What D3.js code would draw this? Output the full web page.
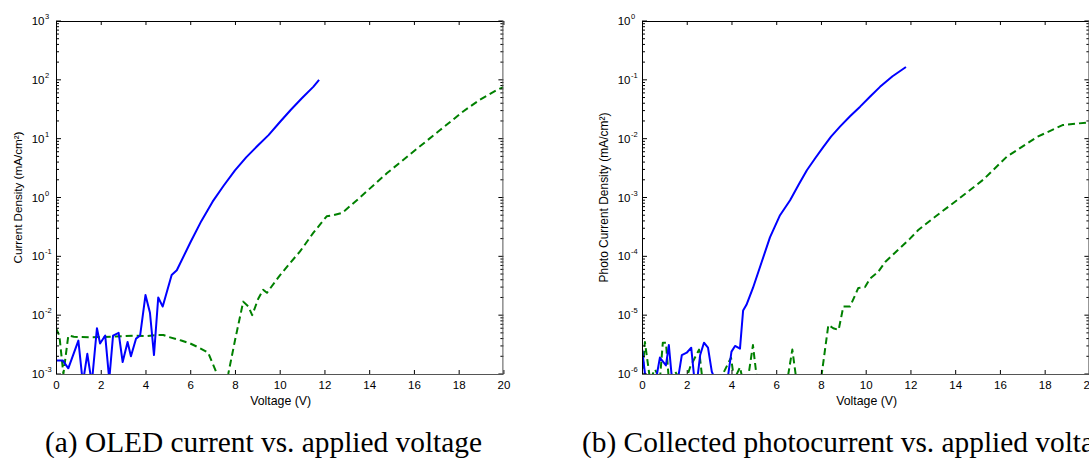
<!DOCTYPE html>
<html>
<head>
<meta charset="utf-8">
<script src="https://cdn.jsdelivr.net/npm/d3@7"></script>
<style>
  html, body { margin: 0; padding: 0; background: #fff; }
  svg { display: block; }
</style>
</head>
<body>
<svg id="chart" width="1089" height="458"></svg>
<script>
// ---------- Data ----------
// Panel (a): OLED current density vs voltage
const oledBlueV = [0, 0.3, 0.55, 1.0, 1.2, 1.4, 1.6, 1.83, 1.97, 2.2, 2.38, 2.55, 2.8, 2.98, 3.2, 3.35, 3.58, 3.76, 4.0, 4.2, 4.38, 4.57, 4.77, 5.17, 5.4, 6.0, 6.5, 7.0, 7.5, 8.0, 8.5, 9.0, 9.5, 10.0, 10.5, 11.0, 11.5, 11.76];
const oledBlueJ = [1.7e-3, 1.7e-3, 1.25e-3, 3.7e-3, 7e-4, 2.2e-3, 7e-4, 6e-3, 3.3e-3, 4.5e-3, 8e-4, 4.5e-3, 5e-3, 1.6e-3, 3.5e-3, 2e-3, 4e-3, 4.5e-3, 2.2e-2, 1.1e-2, 2.1e-3, 2e-2, 1.4e-2, 4.8e-2, 5.8e-2, 0.17, 0.4, 0.85, 1.6, 2.9, 4.8, 7.5, 11.5, 19, 31, 49, 76, 100];

const oledGreenV = [0, 0.15, 0.33, 0.55, 0.8, 1.5, 2.5, 3.5, 4.0, 4.5, 4.8, 5.0, 5.6, 6.0, 6.4, 6.8, 7.2, 7.45, 7.7, 8.0, 8.37, 8.6, 8.77, 9.04, 9.26, 9.43, 10.0, 10.5, 10.9, 11.5, 12.1, 12.4, 12.8, 13.45, 14.8, 15.97, 17.17, 18.2, 18.95, 19.76, 20];
const oledGreenJ = [6e-3, 4.5e-3, 1e-3, 4.5e-3, 4.3e-3, 4.2e-3, 4.3e-3, 4.5e-3, 4.4e-3, 4.6e-3, 4.6e-3, 4.3e-3, 3.7e-3, 3.3e-3, 2.8e-3, 2.3e-3, 1e-3, 5e-4, 1e-3, 3.7e-3, 1.7e-2, 1.4e-2, 1e-2, 1.9e-2, 2.7e-2, 2.4e-2, 4.7e-2, 8e-2, 0.12, 0.25, 0.48, 0.5, 0.55, 0.9, 2.6, 6, 14, 29, 46, 69, 75];

// Panel (b): collected photocurrent density vs voltage
const photoBlueV = [0, 0.15, 0.4, 0.67, 0.8, 1.07, 1.2, 1.33, 1.55, 1.78, 2.0, 2.2, 2.33, 2.45, 2.6, 2.77, 2.95, 3.12, 3.4, 3.8, 4.0, 4.16, 4.38, 4.52, 4.67, 4.96, 5.35, 5.72, 6.17, 6.62, 7.0, 7.37, 7.75, 8.1, 8.45, 8.85, 9.3, 9.75, 10.2, 10.64, 11.2, 11.8];
const photoBlueJ = [2.7e-6, 9e-7, 6e-7, 1e-6, 1.9e-6, 1.4e-6, 3.1e-6, 9e-7, 6e-7, 2.1e-6, 2.3e-6, 2.8e-6, 9e-7, 7e-7, 2.1e-6, 3.4e-6, 2.8e-6, 1.1e-6, 6e-7, 7e-7, 2.4e-6, 3e-6, 2.7e-6, 1.2e-5, 1.5e-5, 2.9e-5, 8e-5, 2.1e-4, 5e-4, 9e-4, 1.65e-3, 2.9e-3, 4.7e-3, 7.2e-3, 1.08e-2, 1.6e-2, 2.4e-2, 3.5e-2, 5.2e-2, 7.6e-2, 0.115, 0.165];

const photoGreenV = [0, 0.13, 0.36, 0.58, 0.8, 0.93, 1.07, 1.2, 1.48, 1.7, 1.97, 2.15, 2.55, 2.7, 3.0, 3.49, 3.98, 4.12, 4.38, 4.5, 4.75, 4.96, 5.14, 5.8, 6.5, 6.72, 6.9, 7.5, 8.0, 8.33, 8.55, 8.79, 9.0, 9.3, 9.67, 9.97, 10.2, 10.55, 10.87, 11.98, 12.35, 13.0, 14.08, 15.25, 16.3, 17.66, 18.8, 20];
const photoGreenJ = [8e-7, 3.5e-6, 8e-7, 1.2e-6, 8e-7, 3.4e-6, 3.4e-6, 8e-7, 1.1e-6, 8e-7, 8e-7, 1.3e-6, 2.6e-6, 8e-7, 6e-7, 8e-7, 1.9e-6, 8e-7, 1.3e-6, 8e-7, 9e-7, 3.1e-6, 8e-7, 6e-7, 8e-7, 2.6e-6, 8e-7, 6e-7, 8e-7, 6.8e-6, 6e-6, 5.6e-6, 1.4e-5, 1.4e-5, 2.9e-5, 3e-5, 4.2e-5, 5.4e-5, 8e-5, 2e-4, 2.8e-4, 4.4e-4, 9e-4, 2e-3, 4.9e-3, 1.07e-2, 1.7e-2, 1.9e-2];

// Axis tick definitions
const xTicks = [0, 2, 4, 6, 8, 10, 12, 14, 16, 18, 20];
const yExpA = [-3, -2, -1, 0, 1, 2, 3];
const yExpB = [-6, -5, -4, -3, -2, -1, 0];

const xLabel = "Voltage (V)";
const yLabelA = "Current Density (mA/cm²)";
const yLabelB = "Photo Current Density (mA/cm²)";
const captionA = "(a) OLED current vs. applied voltage";
const captionB = "(b) Collected photocurrent vs. applied voltage";

// ---------- Drawing ----------
const svg = d3.select("#chart");
const BLUE = "#0000ff", GREEN = "#008000";
const FONT = "'Liberation Sans', Arial, sans-serif";

function zip(v, j) { return v.map((d, i) => ({ v: d, j: j[i] })); }

function fitText(sel, base, target) {
  sel.attr("font-size", base);
  const w = sel.node().getComputedTextLength();
  sel.attr("font-size", base * target / w);
}

function panel(opts) {
  const { left, top, width, height, expMin, expMax, exps, series, ylab, ylabLen, id } = opts;
  const x = d3.scaleLinear().domain([0, 20]).range([left, left + width]);
  const y = d3.scaleLog().domain([Math.pow(10, expMin), Math.pow(10, expMax)]).range([top + height, top]);
  const g = svg.append("g");

  g.append("clipPath").attr("id", id).append("rect")
    .attr("x", left).attr("y", top).attr("width", width).attr("height", height);

  // series
  const line = d3.line().x(d => x(d.v)).y(d => y(d.j));
  series.forEach(s => {
    g.append("path").datum(zip(s.v, s.j))
      .attr("clip-path", `url(#${id})`)
      .attr("d", line)
      .attr("fill", "none")
      .attr("stroke", s.color)
      .attr("stroke-width", 2)
      .attr("stroke-linejoin", "round")
      .attr("stroke-dasharray", s.dash || null);
  });

  // x ticks (bottom & top, inward)
  const xAxisB = d3.axisBottom(x).tickValues(xTicks).tickSizeInner(-4).tickSizeOuter(0).tickPadding(8).tickFormat(d3.format("d"));
  const gxb = g.append("g").attr("transform", `translate(0,${top + height})`).call(xAxisB);
  gxb.select(".domain").remove();
  gxb.selectAll("line").attr("stroke", "#000");
  gxb.selectAll("text").attr("font-family", FONT).attr("font-size", 11.5).attr("fill", "#000").attr("dy", "0.6em");
  const xAxisT = d3.axisTop(x).tickValues(xTicks).tickSizeInner(-4).tickSizeOuter(0).tickFormat("");
  const gxt = g.append("g").attr("transform", `translate(0,${top})`).call(xAxisT);
  gxt.select(".domain").remove();
  gxt.selectAll("line").attr("stroke", "#000");

  // y ticks major & minor on left and right
  const tg = g.append("g");
  for (let e = expMin; e <= expMax; e++) {
    const yy = y(Math.pow(10, e));
    tg.append("line").attr("x1", left).attr("x2", left + 5).attr("y1", yy).attr("y2", yy).attr("stroke", "#000");
    tg.append("line").attr("x1", left + width - 5).attr("x2", left + width).attr("y1", yy).attr("y2", yy).attr("stroke", "#000");
    if (e < expMax) {
      for (let m = 2; m <= 9; m++) {
        const ym = y(m * Math.pow(10, e));
        tg.append("line").attr("x1", left).attr("x2", left + 3).attr("y1", ym).attr("y2", ym).attr("stroke", "#000");
        tg.append("line").attr("x1", left + width - 3).attr("x2", left + width).attr("y1", ym).attr("y2", ym).attr("stroke", "#000");
      }
    }
  }
  // y tick labels 10^e
  exps.forEach(e => {
    const yy = y(Math.pow(10, e));
    g.append("text").attr("font-family", FONT).attr("fill", "#000")
      .attr("y", yy + 4).attr("x", left - 11.5).attr("text-anchor", "end").attr("font-size", 11.5).text("10");
    g.append("text").attr("font-family", FONT).attr("fill", "#000")
      .attr("x", left - 11).attr("y", yy - 2).attr("font-size", 7.5).text(String(e));
  });

  // frame
  g.append("line").attr("x1", left).attr("x2", left + width).attr("y1", top + 0.5).attr("y2", top + 0.5).attr("stroke", "#000");
  g.append("line").attr("x1", left + 0.5).attr("x2", left + 0.5).attr("y1", top).attr("y2", top + height).attr("stroke", "#000");
  g.append("line").attr("x1", left).attr("x2", left + width).attr("y1", top + height + 0.5).attr("y2", top + height + 0.5).attr("stroke", "#555");
  g.append("line").attr("x1", left + width - 0.5).attr("x2", left + width - 0.5).attr("y1", top).attr("y2", top + height).attr("stroke", "#555");

  // axis labels
  const xl = g.append("text").attr("font-family", FONT).attr("fill", "#000")
    .attr("text-anchor", "middle").attr("x", left + width / 2 + 1).attr("y", top + height + 31).text(xLabel);
  fitText(xl, 10, 61);
  const yl = g.append("text").attr("font-family", FONT).attr("fill", "#000")
    .attr("text-anchor", "middle")
    .attr("transform", `translate(${left - 34},${top + height / 2}) rotate(-90)`)
    .text(ylab);
  fitText(yl, 10, ylabLen);
}

panel({
  id: "clipA", left: 56, top: 21, width: 447.4, height: 353,
  expMin: -3, expMax: 3, exps: yExpA, ylab: yLabelA, ylabLen: 132,
  series: [
    { v: oledGreenV, j: oledGreenJ, color: GREEN, dash: "7,4" },
    { v: oledBlueV, j: oledBlueJ, color: BLUE }
  ]
});
panel({
  id: "clipB", left: 642, top: 21, width: 447.4, height: 353,
  expMin: -6, expMax: 0, exps: yExpB, ylab: yLabelB, ylabLen: 170,
  series: [
    { v: photoGreenV, j: photoGreenJ, color: GREEN, dash: "7,4" },
    { v: photoBlueV, j: photoBlueJ, color: BLUE }
  ]
});

// captions
const capFont = "'Liberation Serif', 'Times New Roman', serif";
const capA = svg.append("text").attr("font-family", capFont).attr("fill", "#000")
  .attr("x", 45).attr("y", 452).text(captionA);
fitText(capA, 20, 437);
svg.append("text").attr("font-family", capFont).attr("font-size", capA.attr("font-size")).attr("fill", "#000")
  .attr("x", 582).attr("y", 452).text(captionB);
</script>
</body>
</html>
